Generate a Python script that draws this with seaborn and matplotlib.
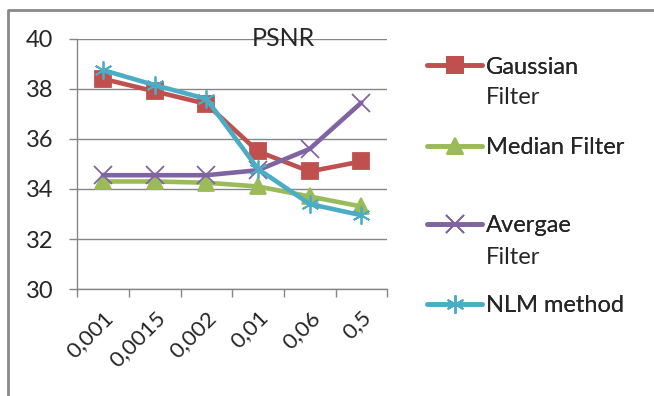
import pandas as pd
import seaborn as sns
import matplotlib.pyplot as plt
from matplotlib.lines import Line2D

# noise levels and PSNR values per filter
noise = ["0,001", "0,0015", "0,002", "0,01", "0,06", "0,5"]
gaussian = [38.4, 37.9, 37.4, 35.5, 34.7, 35.1]
median = [34.3, 34.3, 34.25, 34.1, 33.7, 33.3]
average = [34.55, 34.55, 34.55, 34.75, 35.6, 37.45]
nlm = [38.75, 38.15, 37.6, 34.8, 33.4, 32.95]

series = ["Gaussian Filter", "Median Filter", "Avergae Filter", "NLM method"]
# first line goes in the legend, second line (if any) drawn under it
legend_first = ["Gaussian", "Median Filter", "Avergae", "NLM method"]
legend_second = ["Filter", None, "Filter", None]

df = pd.DataFrame({
    "noise": noise * 4,
    "psnr": gaussian + median + average + nlm,
    "filter": [s for s in series for _ in noise],
})

colors = {"Gaussian Filter": "#C0504D", "Median Filter": "#9BBB59",
          "Avergae Filter": "#8064A2", "NLM method": "#4BACC6"}
markers = {"Gaussian Filter": "s", "Median Filter": "^",
           "Avergae Filter": "x", "NLM method": (6, 2, 0)}

sns.set_style("white")
plt.rcParams['font.family'] = ['Lato', 'DejaVu Sans']

fig = plt.figure(figsize=(6.54, 3.96), dpi=100)
ax = fig.add_axes([0.118, 0.27, 0.474, 0.632])

# mixed filled / line markers -> one lineplot call per series
for s in series:
    sub = df[df["filter"] == s]
    line_marker = s in ("Avergae Filter", "NLM method")
    sns.lineplot(data=sub, x="noise", y="psnr", color=colors[s],
                 marker=markers[s], lw=3.3,
                 markersize=12 if not line_marker else 13,
                 markeredgewidth=1.3, markeredgecolor=colors[s],
                 ax=ax, legend=False)

ax.set_xlim(-0.5, 5.5)
ax.set_ylim(30, 40)
ax.set_yticks([30, 32, 34, 36, 38, 40])
ax.set_xticks(range(6))
ax.set_xticklabels(noise, rotation=45, ha="right", rotation_mode="anchor")
ax.set_xticks([i - 0.5 for i in range(7)], minor=True)
ax.tick_params(axis="x", which="major", length=0, pad=13, labelsize=16)
ax.tick_params(axis="x", which="minor", length=6, color="#868686", width=1,
               direction="out", bottom=True)
ax.tick_params(axis="y", length=6, color="#868686", width=1, left=True,
               direction="out", labelsize=17, pad=11)
ax.grid(axis="y", color="#868686", lw=1)
ax.set_axisbelow(True)
for side in ("top", "right"):
    ax.spines[side].set_visible(False)
for side in ("left", "bottom"):
    ax.spines[side].set_color("#868686")
    ax.spines[side].set_linewidth(1)
ax.set_xlabel("")
ax.set_ylabel("")
fig.text(283 / 654, 1 - 38 / 396, "PSNR", ha="center", va="center",
         fontsize=18)

# one legend per entry so the uneven Excel spacing can be matched
y_first = [67, 148, 226, 306]
y_second = [98, None, 258, None]
for line, lab, yc, lab2, y2 in zip(ax.lines, legend_first, y_first,
                                   legend_second, y_second):
    leg = fig.legend([line], [lab], loc="center left",
                     bbox_to_anchor=(427 / 654, 1 - yc / 396), frameon=False,
                     fontsize=17, handlelength=2.35, handletextpad=0.15,
                     borderpad=0, borderaxespad=0)
    fig.add_artist(leg)
    if lab2:
        fig.text(486 / 654, 1 - y2 / 396, lab2, ha="left", va="center",
                 fontsize=17)

# chart-area border (only left and top edges fall inside the picture)
fig.add_artist(Line2D([8 / 654, 8 / 654, 1.05], [-0.05, 1 - 10 / 396, 1 - 10 / 396],
                      transform=fig.transFigure, color="#888888", lw=2))

fig.savefig("out.png", dpi=100)
